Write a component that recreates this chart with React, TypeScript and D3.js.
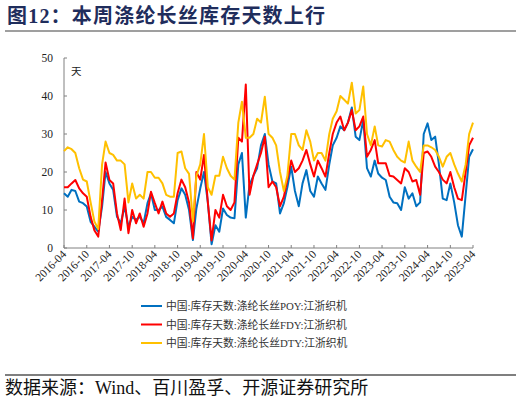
import * as d3 from "d3";

// x axis labels, every six months
const tickLabels = [
  "2016-04", "2016-10", "2017-04", "2017-10", "2018-04", "2018-10",
  "2019-04", "2019-10", "2020-04", "2020-10", "2021-04", "2021-10",
  "2022-04", "2022-10", "2023-04", "2023-10", "2024-04", "2024-10", "2025-04",
];
const yTicks = [0, 10, 20, 30, 40, 50];

// monthly readings, 2016-04 .. 2025-04
const months = d3.timeMonth.range(new Date(2016, 3, 1), new Date(2025, 4, 1));

const poy = [
  14.4, 13.5, 15.3, 15, 12.2, 11.8, 10.9, 6.9, 5.6, 4.3, 10.9, 20,
  17, 15.3, 8.2, 6.5, 10.9, 5.6, 8.2, 7.4, 8.2, 6.5, 11.8, 14.4,
  10, 10, 10.9, 8.2, 7.4, 6.5, 12.6, 15.7, 14, 10, 2.1, 10.4,
  15.7, 20, 12, 1, 6, 4.3, 10.4, 8.7, 8, 7.8, 22, 25,
  8, 16.6, 19, 21, 27, 30, 22, 17.5, 17, 9.1, 11.8, 16,
  21.4, 15, 11, 17, 20.5, 15, 13.5, 18.8, 17, 15.3, 22, 27,
  29, 32, 31, 33, 37, 29.3, 28.4, 33.7, 21, 18.8, 23, 19.6,
  18.5, 17.9, 13.5, 12, 11.8, 10, 16, 13, 14.4, 11, 12, 30,
  32.8, 28.4, 29.3, 22, 13, 12.6, 17, 12, 6, 3, 14, 24,
  26,
];

const fdy = [
  16, 16, 17, 17.9, 15.7, 14.4, 13.5, 8.2, 4.7, 3, 12.6, 22.5,
  17.9, 17, 9.1, 4.7, 13, 3.9, 10, 6.5, 9.1, 5.6, 9.1, 14.8,
  11.8, 9.1, 12.2, 9.1, 8.2, 9.1, 14.4, 18, 16, 12, 2.5, 20,
  18, 24.5, 12, 2, 10, 8, 14, 11, 10, 12, 29, 28,
  43, 14, 19, 22, 25, 29.3, 16, 17.5, 16, 11, 13.5, 18,
  23, 20, 21, 23, 25.8, 22, 18.8, 23, 21, 18.8, 25, 30,
  33, 34.6, 31, 33, 36.3, 31, 32, 34.6, 24, 25.8, 28.4, 22.3,
  22.3, 22.3, 19, 18.8, 17.9, 17, 21, 20, 17.5, 17.9, 14, 25,
  25.4, 24, 21.4, 20, 18, 17, 20, 16, 13, 12.6, 20, 27,
  29,
];

const dty = [
  25.5, 26.5, 26, 25, 21, 18, 17.5, 12, 7, 5, 22, 28,
  25, 24.5, 23, 23, 22, 12, 17, 13, 14, 13, 20, 20,
  18.5, 18.5, 17, 14, 13.5, 13.5, 25, 25.4, 21, 19.5, 7, 19,
  22, 30, 16, 14, 19, 19, 24, 21, 19, 18, 33, 38.5,
  29, 29, 30, 34, 33, 39.8, 30, 29, 27, 20, 15, 19,
  30, 30, 27, 25.8, 31, 28, 23, 25, 25, 23, 30, 34,
  36, 40, 39, 38, 43.5, 35.4, 36.3, 42.5, 30, 27, 32, 27,
  26.7, 28.4, 28, 25.8, 24, 23, 22.5, 28, 23, 21.4, 20, 27,
  27, 26.5, 25.8, 24, 21.4, 24, 25, 22, 19.6, 17.5, 22, 30,
  33,
];

const seriesNames = [
  "中国:库存天数:涤纶长丝POY:江浙织机",
  "中国:库存天数:涤纶长丝FDY:江浙织机",
  "中国:库存天数:涤纶长丝DTY:江浙织机",
];
const colors = ["#0070C0", "#FF0000", "#FFC000"];

const W = 521;
const H = 405;
const serif = "'Liberation Serif', 'Noto Sans CJK SC', serif";

export default function App() {
  const parse = d3.timeParse("%Y-%m");
  const x = d3
    .scaleTime()
    .domain([parse("2016-04")!, parse("2025-04")!])
    .range([64, 473]);
  const y = d3.scaleLinear().domain([0, 50]).range([248, 58]);

  const line = d3
    .line<number>()
    .x((_, i) => x(months[i]))
    .y((d) => y(d));

  const allSeries = [poy, fdy, dty];

  return (
    <svg
      width={W}
      height={H}
      style={{ position: "absolute", left: 0, top: 0, background: "#fff" }}
    >
      <text
        x={7}
        y={23}
        fontFamily={serif}
        fontWeight="bold"
        fontSize={20}
        letterSpacing={1.2}
        fill="#1F2D5C"
      >
        图12：本周涤纶长丝库存天数上行
      </text>
      <line x1={5} x2={516} y1={31} y2={31} stroke="#7f7f7f" strokeWidth={1.5} />

      {/* y axis */}
      <line x1={64} x2={64} y1={y(50)} y2={y(0)} stroke="#808080" />
      {yTicks.map((t) => (
        <g key={t}>
          <line x1={64} x2={67} y1={y(t)} y2={y(t)} stroke="#808080" />
          <text
            x={53}
            y={y(t) + 4}
            textAnchor="end"
            fontFamily={serif}
            fontSize={11.5}
            fill="#222"
          >
            {t}
          </text>
        </g>
      ))}
      <text x={71} y={75} fontFamily={serif} fontSize={10.5} fill="#222">
        天
      </text>

      {/* x axis */}
      <line x1={64} x2={473} y1={y(0)} y2={y(0)} stroke="#808080" />
      {tickLabels.map((l) => {
        const tx = x(parse(l)!);
        return (
          <g key={l}>
            <line x1={tx} x2={tx} y1={y(0)} y2={y(0) - 3} stroke="#808080" />
            <text
              transform={`translate(${tx + 3},${y(0) + 7}) rotate(-45)`}
              textAnchor="end"
              fontFamily={serif}
              fontSize={11.5}
              fill="#222"
            >
              {l}
            </text>
          </g>
        );
      })}

      {allSeries.map((s, i) => (
        <path
          key={i}
          d={line(s) || undefined}
          fill="none"
          stroke={colors[i]}
          strokeWidth={2}
          strokeLinejoin="round"
        />
      ))}

      {/* legend */}
      {seriesNames.map((n, i) => (
        <g key={n} transform={`translate(0,${306 + i * 18.5})`}>
          <line x1={141} x2={162} y1={0} y2={0} stroke={colors[i]} strokeWidth={2} />
          <text x={166} y={4} fontFamily={serif} fontSize={10.8} fill="#333">
            {n}
          </text>
        </g>
      ))}

      <line x1={5} x2={516} y1={375} y2={375} stroke="#7f7f7f" strokeWidth={2} />
      <text x={5} y={394} fontFamily={serif} fontSize={18} fill="#111">
        数据来源：Wind、百川盈孚、开源证券研究所
      </text>
    </svg>
  );
}
